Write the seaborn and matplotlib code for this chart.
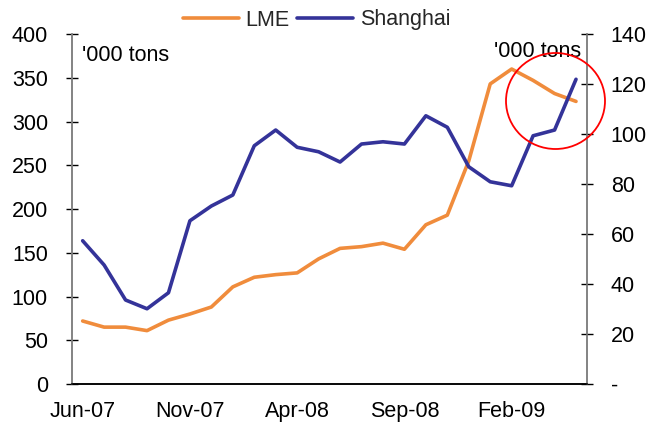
#!/usr/bin/env python3
# LME vs Shanghai copper stocks, dual axis line chart

import numpy as np
import pandas as pd
import seaborn as sns
import matplotlib.pyplot as plt
from matplotlib.patches import Ellipse

MONTHS = ["Jun-07", "Jul-07", "Aug-07", "Sep-07", "Oct-07", "Nov-07",
          "Dec-07", "Jan-08", "Feb-08", "Mar-08", "Apr-08", "May-08",
          "Jun-08", "Jul-08", "Aug-08", "Sep-08", "Oct-08", "Nov-08",
          "Dec-08", "Jan-09", "Feb-09", "Mar-09", "Apr-09", "May-09"]
LME = [72, 65, 65, 61, 73, 80, 88, 111, 122, 125, 127, 143,
       155, 157, 161, 154, 182, 193, 255, 343, 360, 347, 332, 323]
SHANGHAI = [57.3, 47.6, 33.6, 30.1, 36.5, 65.3, 71.2, 75.6, 95.3, 101.6, 94.7, 92.9,
            88.8, 96.0, 96.9, 96.0, 107.3, 102.7, 86.9, 80.9, 79.3, 99.3, 101.6, 121.9]
LABEL_EVERY = 5

ORANGE = "#F08C3C"
BLUE = "#343399"
FS = 15.5

sns.set_theme(style="white")
plt.rcParams["font.family"] = ["Liberation Sans", "DejaVu Sans"]
plt.rcParams["font.size"] = FS

df = pd.DataFrame({"month": MONTHS, "LME": LME, "Shanghai": SHANGHAI})
df["pos"] = np.arange(len(df)) + 0.5  # points sit between month boundaries

fig = plt.figure(figsize=(6.6, 4.26), dpi=100)
ax = fig.add_axes([0.109, 0.0986, 0.78, 0.8215])
ax2 = ax.twinx()

sns.lineplot(data=df, x="pos", y="LME", color=ORANGE, lw=2.6, ax=ax, label="LME", legend=False)
sns.lineplot(data=df, x="pos", y="Shanghai", color=BLUE, lw=2.6, ax=ax2, label="Shanghai", legend=False)

ax.set_xlim(0, len(df))
ax.set_ylim(0, 400)
ax.set_yticks(np.arange(0, 401, 50))
ax2.set_ylim(0, 140)
ax2.set_yticks(np.arange(0, 141, 20))
ax2.set_yticklabels(["-"] + [str(v) for v in range(20, 141, 20)])

# month ticks at boundaries, labels centred on the month
idx = np.arange(0, len(df), LABEL_EVERY)
ax.set_xticks(idx)
ax.set_xticklabels([])
ax.set_xticks(idx + 0.5, minor=True)
ax.set_xticklabels([MONTHS[i] for i in idx], minor=True)
ax.tick_params(axis="x", which="minor", length=0, pad=12.5, labelsize=FS, labelcolor="black")
ax.tick_params(axis="x", which="major", direction="inout", length=8.6, width=1, color="black")

ax.tick_params(axis="y", direction="inout", length=8.6, width=1, color="black", pad=13,
               labelsize=FS, labelcolor="black")
ax2.tick_params(axis="y", direction="inout", length=8.6, width=1, color="black", pad=13,
                labelsize=FS, labelcolor="black")

ax.set_xlabel("")
ax.set_ylabel("")
ax2.set_ylabel("")
ax.grid(False)
ax2.grid(False)

for a in (ax, ax2):
    a.spines["top"].set_visible(False)
    a.spines["bottom"].set_color("black")
    a.spines["left"].set_color("#808080")
    a.spines["right"].set_color("#808080")
    for s in ("left", "right", "bottom"):
        a.spines[s].set_linewidth(1.1)

ax.text(0.02, 0.938, "'000 tons", transform=ax.transAxes, ha="left", va="center",
        fontsize=FS, color="black")
ax2.text(0.99, 0.95, "'000 tons", transform=ax2.transAxes, ha="right", va="center",
         fontsize=FS, color="black")

# red highlight circle
fig.patches.append(Ellipse((555.5 / 660, 1 - 101 / 426), 99 / 660, 96 / 426,
                           transform=fig.transFigure, fill=False, edgecolor="red", lw=1.3))

h1, l1 = ax.get_legend_handles_labels()
h2, l2 = ax2.get_legend_handles_labels()
fig.legend(h1 + h2, l1 + l2, loc="center", bbox_to_anchor=(0.48, 1 - 20 / 426), ncol=2,
           frameon=False, fontsize=FS, handlelength=2.6, handletextpad=0.3,
           columnspacing=0.35, borderaxespad=0)

fig.savefig("out.png", dpi=100)
